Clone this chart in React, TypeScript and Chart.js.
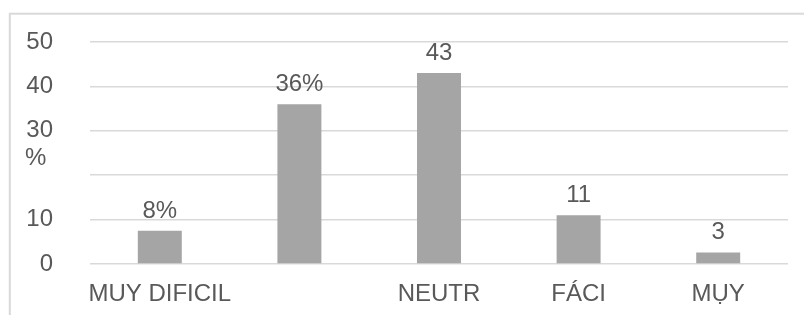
import React, { useEffect, useRef } from "react";
import { Chart, registerables } from "chart.js";

Chart.register(...registerables);

const categories = ["MUY DIFICIL", "", "NEUTR", "FÁCI", "MỤY"];
const values = [7.5, 36, 43, 11, 2.6];
const dataLabels = ["8%", "36%", "43", "11", "3"];
const yTickValues = [0, 10, 20, 30, 40, 50];
const yTickLabels = ["0", "10", "% ", "30", "40", "50"];

const FONT = "'Liberation Sans', Arial, sans-serif";
const TEXT = "#595959";
const GRID = "#d9d9d9";
const BAR = "#a5a5a5";

const framePlugin = {
  id: "frame",
  beforeDraw(chart: any) {
    const ctx = chart.ctx;
    ctx.save();
    ctx.fillStyle = "#ffffff";
    ctx.fillRect(0, 0, chart.width, chart.height);
    ctx.strokeStyle = GRID;
    ctx.lineWidth = 2;
    ctx.strokeRect(9.8, 13.7, 3000, 3000);
    ctx.restore();
  },
};

const labelPlugin = {
  id: "barLabels",
  afterDatasetsDraw(chart: any) {
    const ctx = chart.ctx;
    const meta = chart.getDatasetMeta(0);
    ctx.save();
    ctx.font = `24px ${FONT}`;
    ctx.fillStyle = TEXT;
    ctx.textAlign = "center";
    ctx.textBaseline = "alphabetic";
    meta.data.forEach((bar: any, i: number) => {
      ctx.fillText(dataLabels[i], bar.x, bar.y - 13);
    });
    ctx.restore();
  },
};

export default function App() {
  const ref = useRef<HTMLCanvasElement | null>(null);
  useEffect(() => {
    document.body.style.margin = "0";
    const chart = new Chart(ref.current as HTMLCanvasElement, {
      type: "bar",
      data: {
        labels: categories,
        datasets: [
          {
            data: values,
            backgroundColor: BAR,
            borderWidth: 0,
            categoryPercentage: 1,
            barPercentage: 0.315,
          },
        ],
      },
      options: {
        animation: false,
        responsive: false,
        maintainAspectRatio: false,
        layout: { padding: { top: 42, right: 16, left: 0, bottom: 0 } },
        plugins: { legend: { display: false }, tooltip: { enabled: false } },
        scales: {
          x: {
            grid: { display: false, drawTicks: false },
            border: { display: false },
            ticks: {
              color: TEXT,
              font: { family: FONT, size: 24 },
              padding: 16,
              maxRotation: 0,
              autoSkip: false,
            },
            afterFit(scale: any) {
              scale.height = 51;
              scale.paddingLeft = 0;
              scale.paddingRight = 0;
            },
          },
          y: {
            min: 0,
            max: 50,
            afterBuildTicks(scale: any) {
              scale.ticks = yTickValues.map((v) => ({ value: v }));
            },
            grid: { color: GRID, lineWidth: 1.5, drawTicks: false },
            border: { display: false },
            ticks: {
              color: TEXT,
              font: (ctx: any) =>
                ctx.tick && ctx.tick.value === 20
                  ? { family: FONT, size: 24, lineHeight: 0.72 }
                  : { family: FONT, size: 24 },
              padding: 37,
              autoSkip: false,
              callback(value: any) {
                const idx = yTickValues.indexOf(Number(value));
                const lbl = idx >= 0 ? yTickLabels[idx] : "";
                return lbl === "% " ? ["% ", "", ""] : lbl;
              },
            },
            afterFit(scale: any) {
              scale.width = 90;
              scale.paddingTop = 0;
              scale.paddingBottom = 0;
            },
          },
        },
      },
      plugins: [framePlugin, labelPlugin],
    });
    return () => chart.destroy();
  }, []);
  return (
    <div style={{ width: 804, height: 315 }}>
      <canvas ref={ref} width={804} height={315} style={{ display: "block" }} />
    </div>
  );
}
